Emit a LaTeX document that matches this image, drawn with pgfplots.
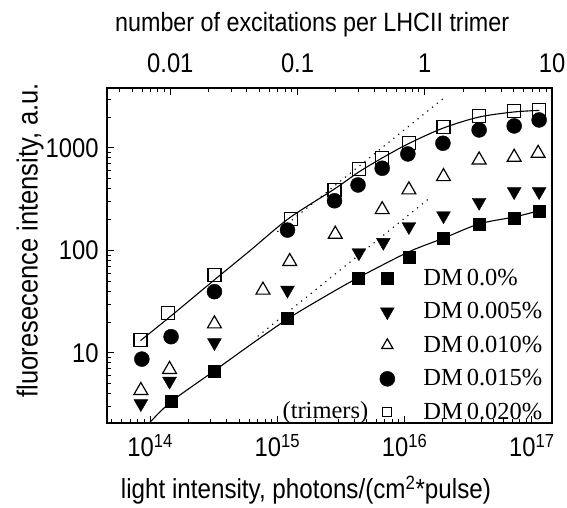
\documentclass[border=0pt]{standalone}
\usepackage{fontspec}
\setmainfont{Liberation Sans}[FakeStretch=0.88]
\newfontfamily\tnr{Liberation Serif}
\usepackage{pgfplots}
\pgfplotsset{compat=1.18}

\pgfplotsset{
  mk/.style={only marks, black,
    legend image code/.code={\path[draw=none,fill=none] (-10bp,0bp) -- (36bp,0bp);\draw[##1] plot coordinates {(0bp,0bp)};}},
  mks/.style={only marks, black,
    legend image code/.code={\path[draw=none,fill=none] (-10bp,0bp) -- (36bp,0bp);\draw[##1, mark size=#1] plot coordinates {(0bp,0bp)};}},
}

\begin{document}
\begin{tikzpicture}
\useasboundingbox (-107bp,-85bp) rectangle (460bp,423bp);
\begin{axis}[
  at={(0,0)}, anchor=south west,
  scale only axis, width=445bp, height=335bp,
  xmode=log, ymode=log,
  xmin=4.58e13, xmax=1.44e17, ymin=2.07, ymax=3846,
  axis line style={line width=1.6bp},
  tick align=inside, xtick pos=bottom, ytick pos=left,
  major tick length=7bp, minor tick length=4bp,
  tick style={black, line width=1bp},
  xtick={1e14,1e15,1e16,1e17},
  xticklabels={10\textsuperscript{14},10\textsuperscript{15},10\textsuperscript{16},10\textsuperscript{17}},
  minor xtick={5e13,6e13,7e13,8e13,9e13,
    2e14,3e14,4e14,5e14,6e14,7e14,8e14,9e14,
    2e15,3e15,4e15,5e15,6e15,7e15,8e15,9e15,
    2e16,3e16,4e16,5e16,6e16,7e16,8e16,9e16},
  ytick={10,100,1000},
  yticklabels={10,100,1000},
  minor ytick={3,4,5,6,7,8,9,20,30,40,50,60,70,80,90,200,300,400,500,600,700,800,900,2000,3000},
  tick label style={font=\fontsize{27bp}{31bp}\selectfont},
  yticklabel style={xshift=-5bp},
  xticklabel style={yshift=-8bp},
  xlabel={light intensity, photons/(cm\textsuperscript{2}*pulse)},
  ylabel={fluoresecence intensity, a.u.},
  xlabel style={at={(axis description cs:0.447,-0.2)}, anchor=center,
    font=\fontsize{27.5bp}{31bp}\selectfont},
  ylabel style={at={(axis description cs:-0.173,0.546)}, anchor=center,
    font=\fontsize{29bp}{32bp}\selectfont},
  legend cell align=left,
  legend style={font=\tnr\fontsize{24.5bp}{29bp}\selectfont, draw=none, fill=none,
    at={(axis description cs:0.607,0.46)}, anchor=north west,
    inner sep=0pt, row sep=15.25bp, nodes={inner sep=0bp, text depth=0.2em}},
]
% fitted saturation curves
\addplot[black, line width=1.1bp, smooth, forget plot] coordinates {
  (8.4e13,13.2) (1.393e14,21.9) (3.21e14,51.8) (6.12e14,100) (1.227e15,205)
  (2.81e15,398) (4.37e15,583) (6.66e15,798) (1.08e16,1106) (2.02e16,1567)
  (3.85e16,2003) (7.26e16,2245) (1.143e17,2324)
};
\addplot[black, line width=1.1bp, smooth, forget plot] coordinates {
  (9.6e13,2.0) (1.456e14,3.33) (3.15e14,6.61) (6.12e14,11.97) (1.227e15,21.8)
  (2.26e15,34.4) (4.25e15,53.6) (1.074e16,96.6) (2.02e16,131.5)
  (3.85e16,181.5) (7.26e16,212) (1.143e17,244)
};
% linear (slope 1) extrapolations
\addplot[black, line width=1.1bp, dash pattern=on 1.2bp off 5bp, forget plot] coordinates {
  (1.0e15,152) (2.1e16,3170)
};
\addplot[black, line width=1.1bp, dash pattern=on 1.2bp off 5bp, forget plot] coordinates {
  (7.0e14,14.5) (1.6e16,330)
};

\addplot[mk, mark=square*, mark size=6bp] coordinates {
  (1.46e14,3.35) (3.2e14,6.6) (1.2e15,21.8) (4.3e15,53) (1.08e16,85)
  (2.02e16,132) (3.85e16,181) (7.26e16,206) (1.14e17,244)
};
\addlegendentry{DM\,0.0\%}
\addplot[mk, mark=triangle*, mark size=8bp, mark options={rotate=180}] coordinates {
  (8.45e13,3.2) (1.42e14,5.3) (3.2e14,12.6) (1.2e15,41) (4.37e15,95)
  (6.8e15,120) (1.08e16,171) (2.02e16,218) (3.85e16,295) (7.26e16,375) (1.14e17,375)
};
\addlegendentry{DM\,0.005\%}
\addplot[mks=6.5bp, mark=triangle, mark size=8bp, mark options={fill=white, line width=1.2bp}] coordinates {
  (8.45e13,4.3) (1.42e14,6.9) (3.2e14,19.2) (7.7e14,41) (1.25e15,78) (2.85e15,144)
  (6.66e15,250) (1.08e16,390) (2.02e16,525) (3.85e16,764) (7.26e16,811) (1.12e17,887)
};
\addlegendentry{DM\,0.010\%}
\addplot[mk, mark=*, mark size=7.5bp] coordinates {
  (8.6e13,8.7) (1.46e14,14.4) (3.2e14,39.6) (1.2e15,158) (2.81e15,305) (4.3e15,435)
  (6.66e15,634) (1.06e16,874) (2.0e16,1111) (3.85e16,1499) (7.26e16,1640) (1.14e17,1875)
};
\addlegendentry{DM\,0.015\%}
\addplot[mks=4.5bp, mark=square, mark size=6.5bp, mark options={fill=white, line width=1.2bp}] coordinates {
  (8.4e13,13.4) (1.39e14,24.4) (3.2e14,57.7) (1.27e15,203) (2.81e15,389) (4.37e15,620)
  (6.66e15,794) (1.08e16,1126) (2.02e16,1592) (3.85e16,2052) (7.26e16,2296) (1.14e17,2350)
};
\addlegendentry{DM\,0.020\%}

\node[anchor=east, font=\tnr\fontsize{24.5bp}{29bp}\selectfont, inner sep=0pt]
  at (axis cs:5.2e15,2.6) {(trimers)};
\end{axis}

\begin{axis}[
  at={(0,0)}, anchor=south west,
  scale only axis, width=445bp, height=335bp,
  xmode=log, xmin=3.18e-3, xmax=10, ymin=0, ymax=1,
  axis x line*=top, axis y line=none,
  x axis line style={-, line width=1.6bp},
  tick align=inside, xticklabel pos=upper,
  major tick length=7bp, minor tick length=4bp,
  tick style={black, line width=1bp},
  xtick={0.01,0.1,1,10},
  xticklabels={0.01,0.1,1,10},
  minor xtick={0.004,0.005,0.006,0.007,0.008,0.009,
    0.02,0.03,0.04,0.05,0.06,0.07,0.08,0.09,
    0.2,0.3,0.4,0.5,0.6,0.7,0.8,0.9,2,3,4,5,6,7,8,9},
  tick label style={font=\fontsize{27bp}{31bp}\selectfont},
  xticklabel style={yshift=12bp},
  xlabel={number of excitations per LHCII trimer},
  xlabel style={at={(axis description cs:0.461,1.19)}, anchor=center,
    font=\fontsize{26.5bp}{30bp}\selectfont},
]
\end{axis}
\end{tikzpicture}
\end{document}
